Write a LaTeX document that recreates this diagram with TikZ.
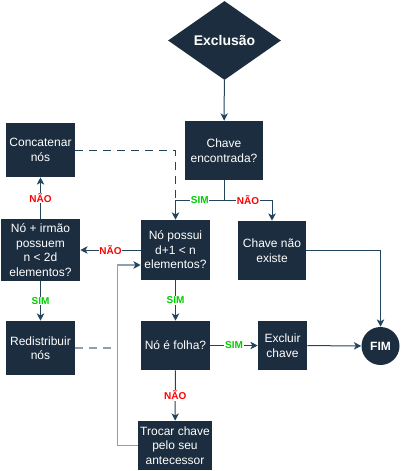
\documentclass[tikz,border=0pt]{standalone}
\usepackage{fontspec}
\setmainfont{Liberation Sans}
\usetikzlibrary{shapes.geometric, arrows.meta}
\definecolor{corcaixa}{HTML}{1B2D3F}
\definecolor{corlinha}{HTML}{23445D}
\definecolor{corcinza}{HTML}{8E9FB0}
\definecolor{corsim}{HTML}{00CC00}
\definecolor{cornao}{HTML}{FF0000}
\tikzset{
  caixa/.style={rectangle, fill=corcaixa, text=white, align=center, inner sep=1pt,
    font=\fontsize{9}{10.9}\selectfont},
  seta/.style={draw=corlinha, line width=0.75pt, -{Stealth[length=5.5pt,width=5.5pt,inset=1.5pt]}},
  tracejado/.style={draw=corlinha, line width=0.75pt, dash pattern=on 6pt off 4.5pt},
  retorno/.style={draw=corcinza, line width=1.1pt, -{Stealth[length=5.5pt,width=5.5pt,inset=1.5pt,color=corlinha]}},
  tracocinza/.style={draw=corcinza, line width=1.3pt, dash pattern=on 6pt off 4.5pt},
  rotsim/.style={fill=white, text=corsim, inner sep=0.5pt, font=\bfseries\fontsize{7.5}{8}\selectfont},
  rotnao/.style={fill=white, text=cornao, inner sep=0.5pt, font=\bfseries\fontsize{7.5}{8}\selectfont}
}
\begin{document}
\begin{tikzpicture}[x=0.75pt, y=-0.75pt]
\useasboundingbox (0,0) rectangle (401,471);

\node[diamond, fill=corcaixa, text=white, inner sep=0pt, minimum width=84.75pt, minimum height=59.25pt,
  font=\bfseries\fontsize{10.5}{12}\selectfont] (excl) at (224.5,40.5) {Exclusão};
\node[caixa, minimum width=58.5pt, minimum height=44.25pt] (chave) at (224,150.5) {Chave\\encontrada?};
\node[caixa, minimum width=51.75pt, minimum height=40.5pt] (concat) at (40.5,150) {Concatenar\\nós};
\node[caixa, minimum width=51.75pt, minimum height=45pt] (possui) at (175.5,250) {Nó possui\\d+1 < n\\elementos?};
\node[caixa, minimum width=51pt, minimum height=44.25pt] (naoexiste) at (272,250.5) {Chave não\\existe};
\node[caixa, minimum width=59.25pt, minimum height=46.5pt] (irmao) at (40.5,250) {Nó + irmão\\possuem\\n < 2d\\elementos?};
\node[caixa, minimum width=51.75pt, minimum height=40.5pt] (redis) at (40.5,348) {Redistribuir\\nós};
\node[caixa, minimum width=51.75pt, minimum height=36.75pt] (folha) at (175.5,345.5) {Nó é folha?};
\node[caixa, minimum width=36.75pt, minimum height=36.75pt] (excluir) at (282.5,345.5) {Excluir\\chave};
\node[circle, fill=corcaixa, text=white, inner sep=0pt, minimum size=28.5pt,
  font=\bfseries\fontsize{9}{10}\selectfont] (fim) at (380.5,346) {FIM};
\node[caixa, minimum width=55.5pt, minimum height=36.75pt] (trocar) at (175,445.5) {Trocar chave\\pelo seu\\antecessor};

\coordinate (divide) at (224,200);
\coordinate (volta) at (117.5,265);

\draw[tracejado] (concat.east) -| (divide -| possui.north);
\draw[seta] (excl) -- (chave);
\draw[seta] (chave) -- (divide) -| (possui.north) node[rotsim, pos=0.25] {SIM};
\draw[seta] (divide) -| (naoexiste.north) node[rotnao, pos=0.25] {NÃO};
\draw[seta] (possui) -- (irmao) node[rotnao, midway] {NÃO};
\draw[seta] (irmao) -- (concat) node[rotnao, midway] {NÃO};
\draw[seta] (irmao) -- (redis) node[rotsim, midway] {SIM};
\draw[seta] (possui) -- (folha) node[rotsim, midway] {SIM};
\draw[seta] (folha) -- (excluir) node[rotsim, midway] {SIM};
\draw[seta] (folha) -- (trocar) node[rotnao, midway] {NÃO};
\draw[seta] (excluir) -- (fim);
\draw[seta] (naoexiste.east) -| (fim.north);
\draw[tracocinza] (redis.east) -- (redis.east -| volta);
\draw[retorno] (trocar.west) -| (volta) -- (volta -| possui.west);

\end{tikzpicture}
\end{document}
